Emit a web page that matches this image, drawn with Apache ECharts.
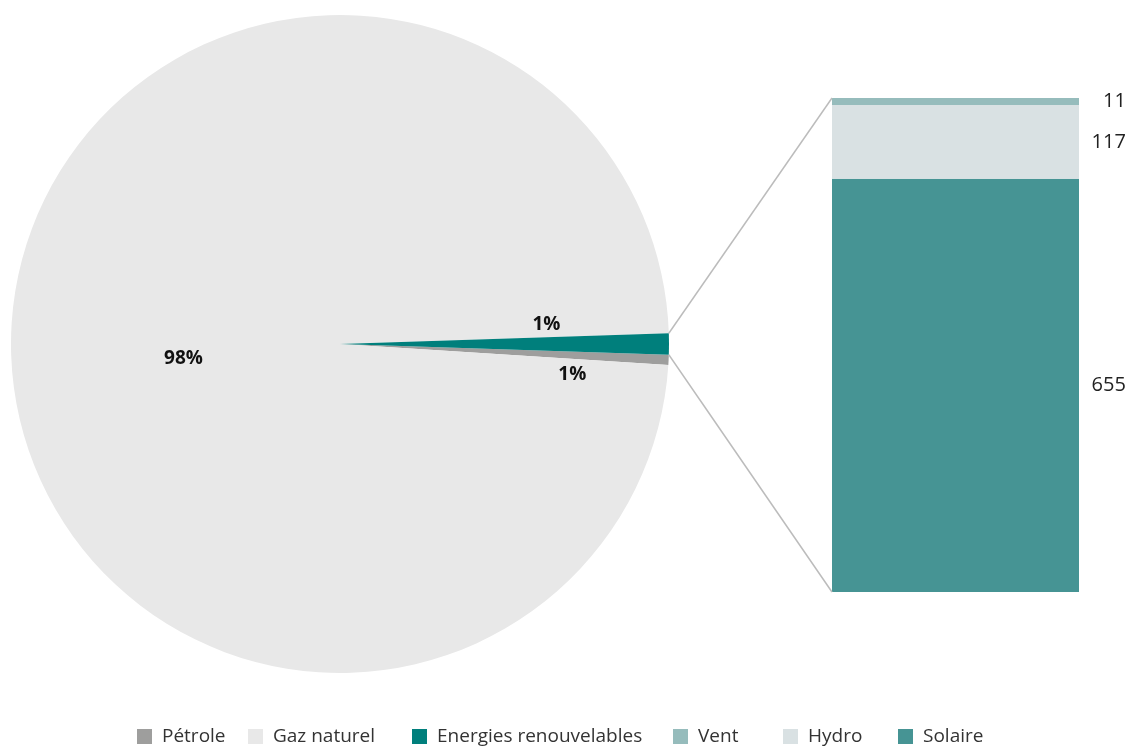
<!DOCTYPE html>
<html>
<head>
<meta charset="utf-8">
<script src="https://cdn.jsdelivr.net/npm/echarts@6/dist/echarts.min.js"></script>
<style>
    html, body { margin: 0; background: #fff; }
    #chart { width: 1131px; height: 747px; }
</style>
</head>
<body>
<div id="chart"></div>
<script>
// données du camembert (tous secteurs)
const pieNames = ['Pétrole', 'Gaz naturel', 'Energies renouvelables'];
const pieValues = [370, 74100, 783];
// détail des renouvelables (empilé de bas en haut)
const barNames = ['Solaire', 'Hydro', 'Vent'];
const barValues = [655, 117, 11];
const legendNames = ['Pétrole', 'Gaz naturel', 'Energies renouvelables', 'Vent', 'Hydro', 'Solaire'];

const colors = {
    'Pétrole': '#9e9e9d',
    'Gaz naturel': '#e8e8e8',
    'Energies renouvelables': '#007f7c',
    'Vent': '#96bcbc',
    'Hydro': '#d9e1e3',
    'Solaire': '#469494'
};
const font = '"Open Sans", "Noto Sans", sans-serif';

// décalages des étiquettes % (par secteur)
const pieLabelShift = [[65, 23], [11, 17], [39, -19]];
// position horizontale de chaque entrée de légende
const legendLeft = [137, 248, 412, 673, 783, 898];

const renewTotal = barValues.reduce((a, b) => a + b, 0);
const pieTotal = pieValues.reduce((a, b) => a + b, 0);
// le secteur renouvelables est centré sur l'horizontale
const startAngle = -(pieValues[2] / pieTotal) * 180;

var chart = echarts.init(document.getElementById('chart'));

var option = {
    animation: false,
    textStyle: { fontFamily: font },
    legend: legendNames.map((name, i) => ({
        data: [name],
        left: legendLeft[i],
        top: 727,
        padding: 0,
        icon: 'rect',
        itemWidth: 15,
        itemHeight: 15,
        selectedMode: false,
        textStyle: { fontSize: 19, color: '#333', fontFamily: font, padding: [0, 0, 0, 5] }
    })),
    grid: { left: 832, top: 98, width: 247, bottom: 155 },
    xAxis: { type: 'category', data: ['r'], show: false },
    yAxis: { type: 'value', min: 0, max: renewTotal, show: false },
    series: [{
        type: 'pie',
        center: [340, 344],
        radius: 329,
        startAngle: startAngle,
        clockwise: true,
        emphasis: { disabled: true },
        itemStyle: { borderWidth: 0 },
        percentPrecision: 0,
        label: {
            show: true,
            position: 'inside',
            formatter: '{d}%',
            fontSize: 19,
            fontWeight: 'bold',
            color: '#111',
            fontFamily: font
        },
        labelLine: { show: false },
        data: pieNames.map((n, i) => ({
            name: n,
            value: pieValues[i],
            itemStyle: { color: colors[n] }
        }))
    }].concat(barNames.map((n, i) => ({
        type: 'bar',
        name: n,
        stack: 'renouv',
        barWidth: '100%',
        emphasis: { disabled: true },
        itemStyle: { color: colors[n] },
        label: {
            show: true,
            position: ['119%', '50%'],
            align: 'right',
            verticalAlign: 'middle',
            fontSize: 20,
            color: '#222',
            fontFamily: font
        },
        data: [barValues[i]]
    })))
};

chart.setOption(option);

// traits de liaison entre le secteur et la barre
var lay = chart.getModel().getSeriesByIndex(0).getData().getItemLayout(2);
var pts = [lay.startAngle, lay.endAngle].map(a => [lay.cx + lay.r * Math.cos(a), lay.cy + lay.r * Math.sin(a)]);
pts.sort((a, b) => a[1] - b[1]);
var rect = chart.getModel().getComponent('grid').coordinateSystem.getRect();
var yTop = chart.convertToPixel({ yAxisIndex: 0 }, renewTotal);
var yBot = chart.convertToPixel({ yAxisIndex: 0 }, 0);

chart.setOption({
    series: [{
        labelLayout: function (p) {
            const s = pieLabelShift[p.dataIndex];
            return { dx: s[0], dy: s[1] };
        }
    }],
    graphic: [
        { type: 'line', shape: { x1: pts[0][0], y1: pts[0][1], x2: rect.x, y2: yTop }, style: { stroke: '#bcbcbc', lineWidth: 1.5 }, z: 10 },
        { type: 'line', shape: { x1: pts[1][0], y1: pts[1][1], x2: rect.x, y2: yBot }, style: { stroke: '#bcbcbc', lineWidth: 1.5 }, z: 10 }
    ]
});
</script>
</body>
</html>
